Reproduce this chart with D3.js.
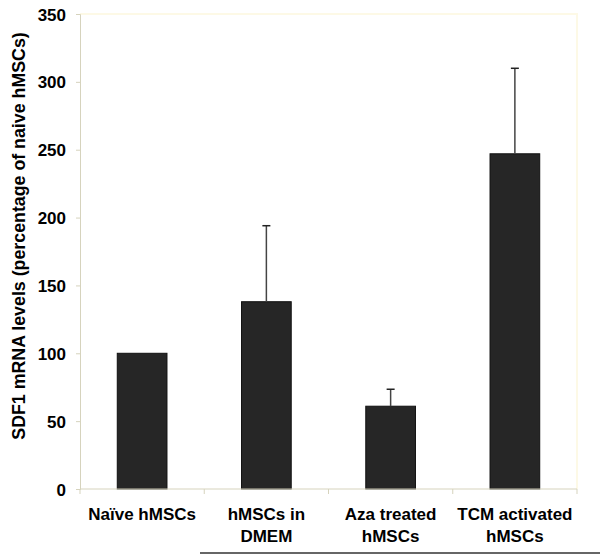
<!DOCTYPE html>
<html><head><meta charset="utf-8">
<script src="https://cdn.jsdelivr.net/npm/d3@7"></script>
<style>body{margin:0;background:#fff;}svg{display:block;}</style>
</head><body>
<script>
const categories = [["Naïve hMSCs"], ["hMSCs in", "DMEM"], ["Aza treated", "hMSCs"], ["TCM activated", "hMSCs"]];
const values = [100, 138, 61, 247];
const errorTops = [100, 194, 73.5, 310];
const yTicks = [0, 50, 100, 150, 200, 250, 300, 350];
const yLabel = "SDF1 mRNA levels (percentage of naive hMSCs)";

const W = 600, H = 554;
const m = {left: 80, right: 23, top: 14, bottom: 65};
const svg = d3.select("body").append("svg").attr("width", W).attr("height", H);

const x = d3.scaleBand().domain(d3.range(categories.length)).range([m.left, W - m.right]).paddingInner(0.6).paddingOuter(0.3);
const xOuter = d3.scaleBand().domain(d3.range(categories.length)).range([m.left, W - m.right]);
const y = d3.scaleLinear().domain([0, 350]).range([H - m.bottom, m.top]);

// faint border top and right
svg.append("path")
  .attr("d", `M${m.left},${m.top}H${W - m.right}V${H - m.bottom}`)
  .attr("fill", "none").attr("stroke", "#fdf9e6").attr("stroke-width", 2);

// bars
svg.selectAll("rect.bar").data(values).join("rect")
  .attr("x", (d, i) => x(i)).attr("width", x.bandwidth())
  .attr("y", d => y(d)).attr("height", d => y(0) - y(d))
  .attr("fill", "#262626").attr("stroke", "#111").attr("stroke-width", 1);

// error bars
const eb = svg.selectAll("g.err").data(values.map((v, i) => ({v, e: errorTops[i], i})).filter(d => d.e > d.v)).join("g");
eb.append("line")
  .attr("x1", d => x(d.i) + x.bandwidth() / 2).attr("x2", d => x(d.i) + x.bandwidth() / 2)
  .attr("y1", d => y(d.v)).attr("y2", d => y(d.e))
  .attr("stroke", "#444").attr("stroke-width", 1.5);
eb.append("line")
  .attr("x1", d => x(d.i) + x.bandwidth() / 2 - 4).attr("x2", d => x(d.i) + x.bandwidth() / 2 + 4)
  .attr("y1", d => y(d.e)).attr("y2", d => y(d.e))
  .attr("stroke", "#222").attr("stroke-width", 1.5);

const FONT = "Liberation Sans, Arial, sans-serif";

// y axis
const yAxis = svg.append("g").attr("transform", `translate(${m.left},0)`)
  .call(d3.axisLeft(y).tickValues(yTicks).tickSize(4).tickPadding(10));
yAxis.select(".domain").attr("stroke", "#d6d3bd");
yAxis.selectAll(".tick line").attr("stroke", "#d6d3bd");
yAxis.selectAll(".tick text").attr("fill", "#000").attr("font-family", FONT)
  .attr("font-size", 17).attr("font-weight", "bold").attr("dy", "0.36em");

// x axis
const xAxis = svg.append("g").attr("transform", `translate(0,${y(0)})`);
xAxis.append("line").attr("x1", m.left).attr("x2", W - m.right).attr("y1", 0).attr("y2", 0).attr("stroke", "#d6d3bd");
xAxis.selectAll("line.tk").data(d3.range(categories.length + 1)).join("line")
  .attr("x1", i => i < categories.length ? xOuter(i) : W - m.right)
  .attr("x2", i => i < categories.length ? xOuter(i) : W - m.right)
  .attr("y1", 0).attr("y2", 5).attr("stroke", "#d6d3bd");

const lbl = svg.selectAll("text.xl").data(categories).join("text")
  .attr("x", (d, i) => x(i) + x.bandwidth() / 2)
  .attr("y", y(0) + 31)
  .attr("text-anchor", "middle").attr("font-family", FONT)
  .attr("font-size", 17).attr("font-weight", "bold").attr("fill", "#000");
lbl.selectAll("tspan").data(d => d).join("tspan")
  .attr("x", function() { return this.parentNode.getAttribute("x"); })
  .attr("dy", (d, j) => j === 0 ? 0 : 22).text(d => d);

// y label
svg.append("text")
  .attr("transform", `translate(25,236) rotate(-90)`)
  .attr("text-anchor", "middle").attr("font-family", FONT)
  .attr("font-size", 17.8).attr("font-weight", "bold").attr("fill", "#000")
  .text(yLabel);

// bottom rule
svg.append("line").attr("x1", 200).attr("x2", W).attr("y1", H - 1).attr("y2", H - 1)
  .attr("stroke", "#666").attr("stroke-width", 2);
</script>
</body></html>
